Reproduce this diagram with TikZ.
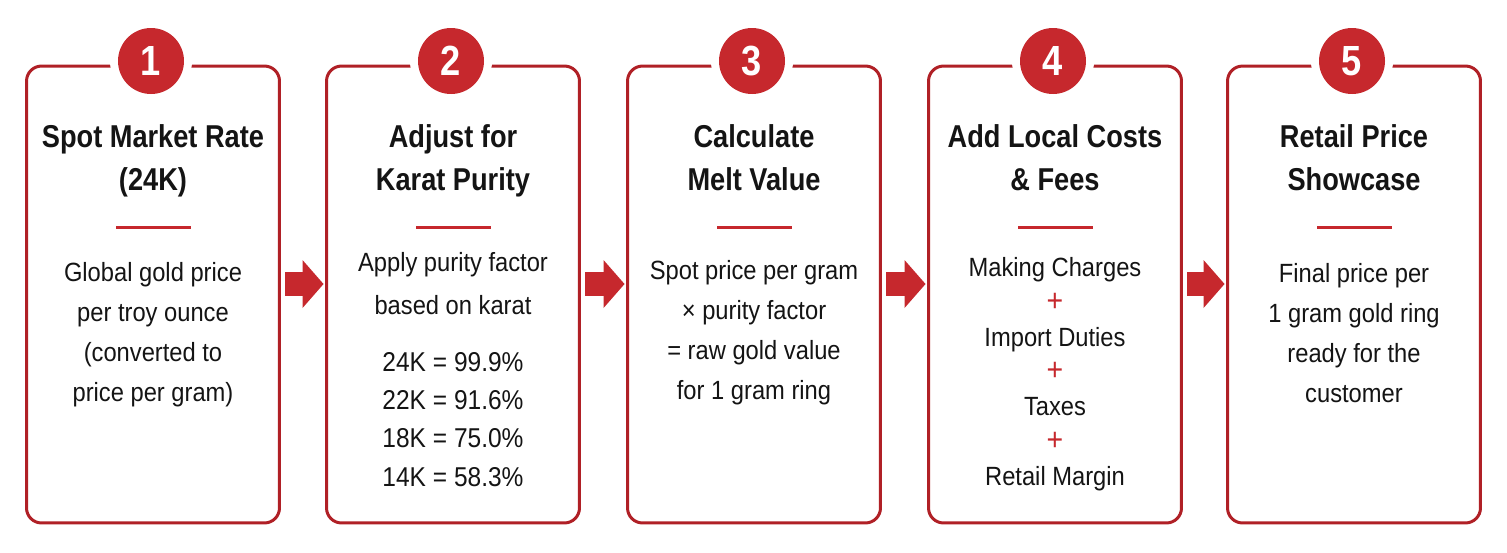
\documentclass[tikz,border=0pt]{standalone}
\usepackage{fontspec}
\setmainfont[FakeStretch=0.9]{Liberation Sans}
\newfontfamily\headfont[FakeStretch=0.86]{Liberation Sans}
\usetikzlibrary{arrows.meta}
\definecolor{cardred}{RGB}{176,32,38}
\definecolor{dotred}{RGB}{198,40,45}
\definecolor{inkblack}{RGB}{20,20,20}
\newcommand{\redplus}{{\color{dotred}\fontsize{18}{19.8}\selectfont +}}

\begin{document}
\begin{tikzpicture}[x=0.02cm,y=-0.02cm,
        card/.style={draw=cardred,line width=0.06cm,rounded corners=0.3cm,minimum width=5.06cm,minimum height=9.14cm,inner sep=0,outer sep=0},
        numdot/.style={circle,fill=dotred,text=white,inner sep=0,minimum size=1.32cm,font=\headfont\bfseries\fontsize{24}{24}\selectfont,preaction={draw=white,line width=0.32cm}},
        headtext/.style={align=center,anchor=north,text=inkblack,inner sep=0,font=\headfont\bfseries\fontsize{18}{24.4}\selectfont},
        bodytext/.style={align=center,anchor=north,text=inkblack,inner sep=0,font=\fontsize{15}{22.7}\selectfont},
        flowarrow/.style={dotred,line width=0.48cm,shorten <=0.12cm,shorten >=0.06cm,-{Triangle[line width=0pt,length=0.42cm,width=0.96cm]}}]
        \useasboundingbox[fill=white] (0,0) rectangle (1507,552);
        \foreach \i/\x in {1/153,2/453,3/754,4/1055,5/1354}{
            \node[card] (box\i) at (\x,294.5) {};
            \node[numdot] (num\i) at (\x-2,61) {\i};
            \draw[dotred,line width=0.06cm] (\x-37,227) -- (\x+38,227);
        }
        \node[headtext] (head1) at (153,124) {Spot Market Rate\\(24K)};
        \node[headtext] (head2) at (453,124) {Adjust for\\Karat Purity};
        \node[headtext] (head3) at (754,124) {Calculate\\Melt Value};
        \node[headtext] (head4) at (1055,124) {Add Local Costs\\\& Fees};
        \node[headtext] (head5) at (1354,124) {Retail Price\\Showcase};

        \node[bodytext] (text1) at (153,262) {Global gold price\\per troy ounce\\(converted to\\price per gram)};
        \node[bodytext] (text2) at (453,252) {Apply purity factor\\[2pt]based on karat};
        \node[bodytext,font=\fontsize{15.5}{21.8}\selectfont] (karats) at (453,352) {24K = 99.9\%\\22K = 91.6\%\\18K = 75.0\%\\14K = 58.3\%};
        \node[bodytext] (text3) at (754,260) {Spot price per gram\\× purity factor\\= raw gold value\\for 1 gram ring};
        \node[bodytext,font=\fontsize{15}{19.8}\selectfont] (text4) at (1055,257) {Making Charges\\\redplus\\Import Duties\\\redplus\\Taxes\\\redplus\\Retail Margin};
        \node[bodytext] (text5) at (1354,263) {Final price per\\1 gram gold ring\\ready for the\\customer};

        \foreach \i/\j in {1/2,2/3,3/4,4/5}
        \draw[flowarrow] ([yshift=0.21cm]box\i.east) -- ([yshift=0.21cm]box\j.west);
    \end{tikzpicture}
\end{document}
